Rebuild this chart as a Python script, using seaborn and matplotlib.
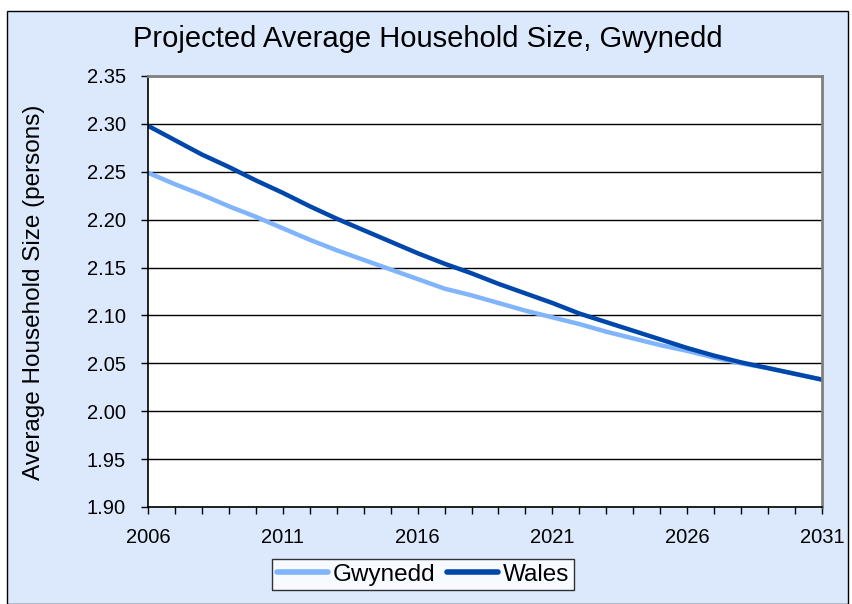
"""
Projected average household size, Gwynedd vs Wales (2006-2031).
"""

import numpy as np
import pandas as pd
import matplotlib
matplotlib.use('Agg')
import matplotlib.pyplot as plt
from matplotlib.patches import Rectangle
from matplotlib.ticker import MultipleLocator
import seaborn as sns

years = list(range(2006, 2032))

gwynedd = [2.249, 2.237, 2.226, 2.214, 2.203, 2.191, 2.179, 2.168, 2.158, 2.148,
           2.138, 2.128, 2.121, 2.113, 2.105, 2.098, 2.091, 2.083, 2.076, 2.069,
           2.063, 2.056, 2.050, 2.045, 2.039, 2.033]

wales = [2.298, 2.283, 2.268, 2.255, 2.241, 2.228, 2.214, 2.201, 2.189, 2.177,
         2.165, 2.154, 2.144, 2.133, 2.123, 2.113, 2.102, 2.093, 2.084, 2.075,
         2.066, 2.058, 2.051, 2.045, 2.039, 2.033]

series_names  = ["Gwynedd", "Wales"]
series_colors = ["#80b4fc", "#0047ab"]

y_ticks = [1.90, 1.95, 2.00, 2.05, 2.10, 2.15, 2.20, 2.25, 2.30, 2.35]
x_ticks = [2006, 2011, 2016, 2021, 2026, 2031]

BG = "#dce9fc"

df = pd.DataFrame({
    "Year":   years * 2,
    "Size":   gwynedd + wales,
    "Area":   ["Gwynedd"] * len(years) + ["Wales"] * len(years),
})

sns.set_style("white")
plt.rcParams['font.family'] = ['Liberation Sans', 'DejaVu Sans']
plt.rcParams['text.color'] = 'black'
plt.rcParams['axes.labelcolor'] = 'black'
plt.rcParams['xtick.color'] = 'black'
plt.rcParams['ytick.color'] = 'black'

fig = plt.figure(figsize=(8.52, 6.04), dpi=100)
fig.patch.set_facecolor("white")

# outer chart box, kept behind the axes
fig.patches.append(Rectangle((7 / 852, 0), 841 / 852, 1 - 11 / 604,
                             transform=fig.transFigure, facecolor=BG,
                             edgecolor="black", linewidth=1.0, zorder=-5))

ax = fig.add_axes([148 / 852, 1 - 507 / 604, 674 / 852, 431 / 604])
ax.set_facecolor("white")

sns.lineplot(data=df, x="Year", y="Size", hue="Area",
             hue_order=series_names, palette=series_colors,
             linewidth=3.2, ax=ax, legend=False)

ax.set_xlim(2006, 2031)
ax.set_ylim(1.90, 2.35)
ax.set_yticks(y_ticks)
ax.set_yticklabels([f"{v:.2f}" for v in y_ticks], fontsize=14.5)
ax.set_xticks(x_ticks)
ax.set_xticklabels([str(v) for v in x_ticks], fontsize=14.5)
ax.xaxis.set_minor_locator(MultipleLocator(1))

ax.grid(axis="y", color="black", linewidth=1.0)
ax.set_axisbelow(True)

ax.tick_params(axis="both", which="major", direction="out", length=5,
               width=1, color="black", bottom=True, left=True)
ax.tick_params(axis="x", which="minor", direction="out", length=5,
               width=1, color="black", bottom=True)
ax.tick_params(axis="x", which="major", pad=10)
ax.tick_params(axis="y", which="major", pad=11)

for side in ["left", "bottom"]:
    ax.spines[side].set_color("black")
    ax.spines[side].set_linewidth(1.2)
for side in ["top", "right"]:
    ax.spines[side].set_color("#808080")
    ax.spines[side].set_linewidth(2.0)

ax.set_xlabel("")
ax.set_ylabel("Average Household Size (persons)", fontsize=17.5)
ax.yaxis.set_label_coords(45 / 852, 1 - 292 / 604, transform=fig.transFigure)

fig.text(428 / 852, 1 - 47 / 604, "Projected Average Household Size, Gwynedd",
         ha="center", va="baseline", fontsize=21)

handles = [plt.Line2D([], [], color=c, linewidth=4) for c in series_colors]
leg = fig.legend(handles, series_names, loc="center",
                 bbox_to_anchor=(423 / 852, 1 - 574.5 / 604), ncol=2,
                 fontsize=17.5, frameon=True, fancybox=False, handlelength=2.1,
                 handletextpad=0.2, columnspacing=0.45, borderpad=0.2,
                 borderaxespad=0)
leg.get_frame().set_edgecolor("black")
leg.get_frame().set_linewidth(1.0)
leg.get_frame().set_facecolor("white")

fig.savefig("out.png", dpi=100, facecolor=fig.get_facecolor())
